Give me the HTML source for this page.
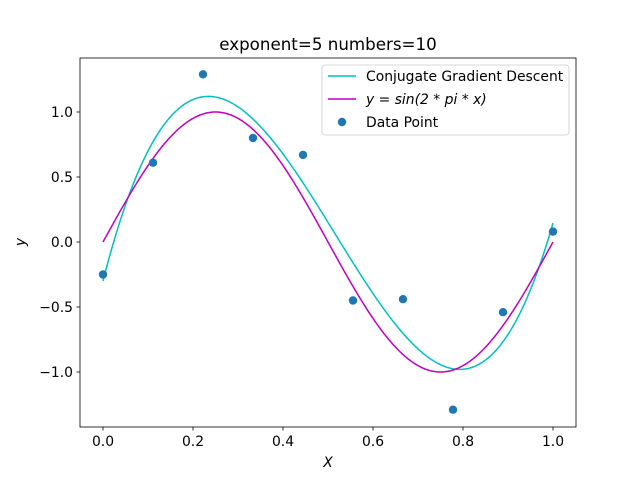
<!DOCTYPE html>
<html><head><meta charset="utf-8"><style>
body{margin:0;background:#fff;}
svg text{font-family:"DejaVu Sans","Liberation Sans",sans-serif;}
</style></head><body>
<svg id="chart" width="640" height="480" xmlns="http://www.w3.org/2000/svg">
<rect width="640" height="480" fill="#fff"/>
<text x="328" y="50" font-size="16.7" text-anchor="middle">exponent=5 numbers=10</text>
<g id="plot"></g>
<rect x="80" y="58" width="496" height="369" fill="none" stroke="#000" stroke-width="0.8"/>
<g id="ticks"></g>
<text x="328" y="467" font-size="13.9" font-style="italic" text-anchor="middle">X</text>
<text x="25" y="242" font-size="13.9" font-style="italic" text-anchor="middle" transform="rotate(-90 25 242)">y</text>
<g>
<rect x="322" y="65" width="247" height="70" rx="3" fill="#fff" fill-opacity="0.8" stroke="#ccc" stroke-width="0.8"/>
<line x1="328" y1="76" x2="356" y2="76" stroke="#00bfbf" stroke-width="1.5"/>
<text x="366" y="81" font-size="13.9">Conjugate Gradient Descent</text>
<line x1="328" y1="99" x2="356" y2="99" stroke="#bf00bf" stroke-width="1.5"/>
<text x="366" y="104" font-size="13.9" font-style="italic">y = sin(2 * pi * x)</text>
<circle cx="342" cy="122" r="4.2" fill="#1f77b4"/>
<text x="366" y="127" font-size="13.9">Data Point</text>
</g>
</svg>
<script>
const xData=[0,1/9,2/9,3/9,4/9,5/9,6/9,7/9,8/9,1];
const yData=[-0.25,0.61,1.29,0.80,0.67,-0.45,-0.44,-1.29,-0.54,0.08];
// fitted curve key values: start, peak, trough, end
const fitX=[0,0.234,0.793,1];
const fitY=[-0.30,1.12,-0.98,0.146];
const fitFlat=[false,true,true,false];
const xTicks=[0,0.2,0.4,0.6,0.8,1.0];
const xTickLabels=["0.0","0.2","0.4","0.6","0.8","1.0"];
const yTicks=[-1,-0.5,0,0.5,1];
const yTickLabels=["\u22121.0","\u22120.5","0.0","0.5","1.0"];
const sx=v=>103+v*450, sy=v=>242-v*130;
const NS="http://www.w3.org/2000/svg";
const plot=document.getElementById('plot'), ticks=document.getElementById('ticks');
function mk(tag,attrs,parent){const e=document.createElementNS(NS,tag);for(const k in attrs)e.setAttribute(k,attrs[k]);parent.appendChild(e);return e;}
// build quintic through key values (with zero slope at extrema)
const rows=[];
fitX.forEach((x,k)=>{const r=[];for(let i=0;i<6;i++)r.push(Math.pow(x,i));r.push(fitY[k]);rows.push(r);
if(fitFlat[k]){const d=[0];for(let i=1;i<6;i++)d.push(i*Math.pow(x,i-1));d.push(0);rows.push(d);}});
const n=6;const A=rows.slice(0,n);
for(let i=0;i<n;i++){let p=i;for(let r=i+1;r<n;r++)if(Math.abs(A[r][i])>Math.abs(A[p][i]))p=r;[A[i],A[p]]=[A[p],A[i]];for(let r=0;r<n;r++){if(r===i)continue;const f=A[r][i]/A[i][i];for(let c=i;c<=n;c++)A[r][c]-=f*A[i][c];}}
const coef=A.map((r,i)=>r[n]/r[i]);
const poly=x=>coef.reduce((s,c,i)=>s+c*Math.pow(x,i),0);
let d1="",d2="";for(let i=0;i<=200;i++){const x=i/200;d1+=(i?"L":"M")+sx(x).toFixed(2)+" "+sy(poly(x)).toFixed(2);d2+=(i?"L":"M")+sx(x).toFixed(2)+" "+sy(Math.sin(2*Math.PI*x)).toFixed(2);}
let e=mk('path',{d:d1,fill:"none",stroke:"#00bfbf","stroke-width":1.5},plot);


e=mk('path',{d:d2,fill:"none",stroke:"#bf00bf","stroke-width":1.5},plot);


xData.forEach((x,i)=>{const c=mk('circle',{cx:sx(x),cy:sy(yData[i]),r:4.2,fill:"#1f77b4"},plot);

});
xTicks.forEach((t,i)=>{mk('line',{x1:sx(t),x2:sx(t),y1:427,y2:430.5,stroke:"#000","stroke-width":0.8},ticks);
const l=mk('text',{x:sx(t),y:446,"font-size":13.9,"text-anchor":"middle"},ticks);l.textContent=xTickLabels[i];

});
yTicks.forEach((t,i)=>{mk('line',{x1:76.5,x2:80,y1:sy(t),y2:sy(t),stroke:"#000","stroke-width":0.8},ticks);
const l=mk('text',{x:73,y:sy(t)+5,"font-size":13.9,"text-anchor":"end"},ticks);l.textContent=yTickLabels[i];

});
</script>
</body></html>
